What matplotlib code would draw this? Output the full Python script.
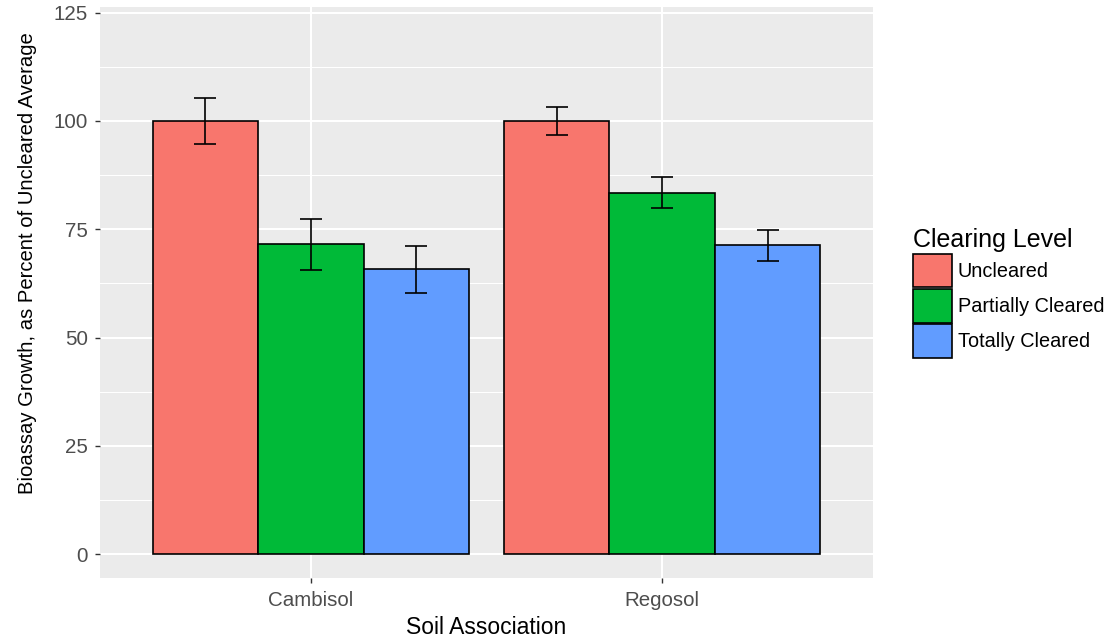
import matplotlib
matplotlib.use("Agg")
import matplotlib.pyplot as plt
from matplotlib.patches import Patch
from matplotlib.ticker import MultipleLocator
import numpy as np

# Data
soils = ["Cambisol", "Regosol"]
levels = ["Uncleared", "Partially Cleared", "Totally Cleared"]
uncleared = [100.0, 100.0]
partially = [71.5, 83.4]
totally = [65.8, 71.3]
uncleared_se = [5.4, 3.2]
partially_se = [5.8, 3.6]
totally_se = [5.4, 3.55]
colors = ["#F8766D", "#00BA38", "#619CFF"]

plt.rcParams['font.family'] = ['Liberation Sans', 'DejaVu Sans']

fig = plt.figure(figsize=(11.18, 6.38), dpi=100)
ax = fig.add_axes([100/1118, 1-578/638, 773/1118, 571/638])
ax.set_facecolor("#EBEBEB")

x = np.arange(1, len(soils) + 1)
width = 0.3
offsets = [-width, 0, width]
series = [uncleared, partially, totally]
errs = [uncleared_se, partially_se, totally_se]

for vals, se, off, col in zip(series, errs, offsets, colors):
    ax.bar(x + off, vals, width=width, color=col, edgecolor="black",
           linewidth=1.2, zorder=3)
    ax.errorbar(x + off, vals, yerr=se, fmt="none", ecolor="black",
                elinewidth=1.2, capsize=7.9, capthick=1.2, zorder=4)

ax.set_xlim(0.4, 2.6)
ax.set_ylim(-5.5, 126.3)
ax.yaxis.set_major_locator(MultipleLocator(25))
ax.yaxis.set_minor_locator(MultipleLocator(12.5))
ax.set_xticks(x)
ax.set_xticklabels(soils)

ax.grid(which="major", color="white", linewidth=1.5, zorder=0)
ax.grid(which="minor", axis="y", color="white", linewidth=0.75, zorder=0)
ax.set_axisbelow(True)
for s in ax.spines.values():
    s.set_visible(False)

ax.tick_params(axis="both", which="major", length=3.6, width=1.0, color="#333333",
               labelcolor="#4D4D4D", labelsize=14.8)
ax.tick_params(axis="y", which="major", pad=5)
ax.tick_params(axis="x", which="major", pad=6)
ax.tick_params(axis="both", which="minor", length=0)

ax.set_xlabel("Soil Association", fontsize=16.5, color="black", labelpad=4)
ax.set_ylabel("Bioassay Growth, as Percent of Uncleared Average", fontsize=14.6, color="black")
ax.yaxis.set_label_coords(-0.082, (578 - 263) / 571)

handles = [Patch(facecolor=c, edgecolor="black", linewidth=1.2, label=l) for c, l in zip(colors, levels)]
leg = ax.legend(handles=handles, title="Clearing Level", loc="upper left",
                bbox_to_anchor=(913/1118, 1-228/638), bbox_transform=fig.transFigure,
                frameon=False, fontsize=14.3, title_fontsize=18, borderpad=0,
                handlelength=1.95, handleheight=2.2, labelspacing=0.1,
                handletextpad=0.3, borderaxespad=0, alignment="left")

fig.savefig("out.png", dpi=100)
